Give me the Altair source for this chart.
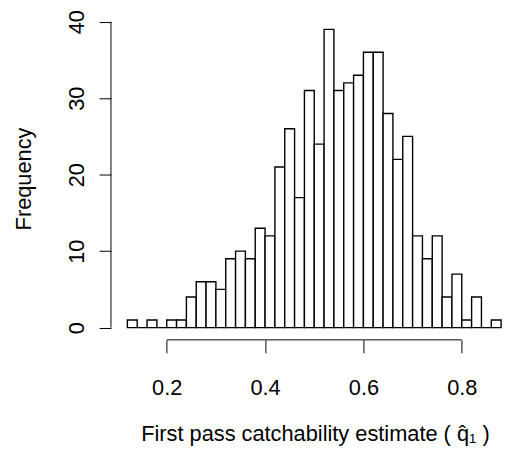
import altair as alt
import pandas as pd

# Histogram bins (left edges) and counts
bin_left = [0.12, 0.14, 0.16, 0.18, 0.20, 0.22, 0.24, 0.26, 0.28, 0.30,
            0.32, 0.34, 0.36, 0.38, 0.40, 0.42, 0.44, 0.46, 0.48, 0.50,
            0.52, 0.54, 0.56, 0.58, 0.60, 0.62, 0.64, 0.66, 0.68, 0.70,
            0.72, 0.74, 0.76, 0.78, 0.80, 0.82, 0.84, 0.86]
counts = [1, 0, 1, 0, 1, 1, 4, 6, 6, 5,
          9, 10, 9, 13, 12, 21, 26, 17, 31, 24,
          39, 31, 32, 33, 36, 36, 28, 22, 25, 12,
          9, 12, 4, 7, 1, 4, 0, 1]
bin_width = 0.02
x_ticks = [0.2, 0.4, 0.6, 0.8]
y_ticks = [0, 10, 20, 30, 40]

df = pd.DataFrame({
    "left": bin_left,
    "right": [b + bin_width for b in bin_left],
    "count": counts,
    "base": [0] * len(counts),
})
xaxis_df = pd.DataFrame({"x": [min(x_ticks)], "x2": [max(x_ticks)]})
yaxis_df = pd.DataFrame({"y": [min(y_ticks)], "y2": [max(y_ticks)]})

W, H = 398, 326
FONT = "Liberation Sans"
FS = 22
xs = alt.Scale(domain=[0.0866, 0.8879], nice=False, zero=False)
ys = alt.Scale(domain=[-1.6, 40.6], nice=False, zero=False)

bars = alt.Chart(df).mark_rect(fill="white", stroke="black", strokeWidth=1.4).encode(
    x=alt.X("left:Q", scale=xs, axis=alt.Axis(
        values=x_ticks, format=".1f", domain=False, grid=False,
        tickSize=13, tickColor="black", tickWidth=1,
        labelFont=FONT, labelFontSize=FS, labelColor="black", labelPadding=25,
        title="First pass catchability estimate ( q\u0302\u2081 )",
        titleFont=FONT, titleFontSize=FS, titleFontWeight="normal",
        titleColor="black", titlePadding=26, titleX=206, titleAlign="center")),
    x2="right:Q",
    y=alt.Y("count:Q", scale=ys, axis=alt.Axis(
        values=y_ticks, format="d", domain=False, grid=False,
        tickSize=12, tickColor="black", tickWidth=1,
        labelFont=FONT, labelFontSize=FS, labelColor="black",
        labelAngle=270, labelAlign="center", labelBaseline="bottom", labelPadding=11,
        title="Frequency", titleFont=FONT, titleFontSize=FS,
        titleFontWeight="normal", titleColor="black", titlePadding=30)),
    y2="base:Q",
)

xline = alt.Chart(xaxis_df).mark_rule(color="black", strokeWidth=1).encode(
    x=alt.X("x:Q", scale=xs), x2="x2:Q", y=alt.value(H))
yline = alt.Chart(yaxis_df).mark_rule(color="black", strokeWidth=1).encode(
    y=alt.Y("y:Q", scale=ys), y2="y2:Q", x=alt.value(0))

chart = alt.layer(bars, xline, yline).properties(
    width=W, height=H,
    autosize=alt.AutoSizeParams(type="none"),
    padding={"left": 104, "top": 7, "right": 0, "bottom": 105},
).configure_view(strokeWidth=0)

chart.save("out.html", embed_options={"renderer": "svg", "actions": False})
